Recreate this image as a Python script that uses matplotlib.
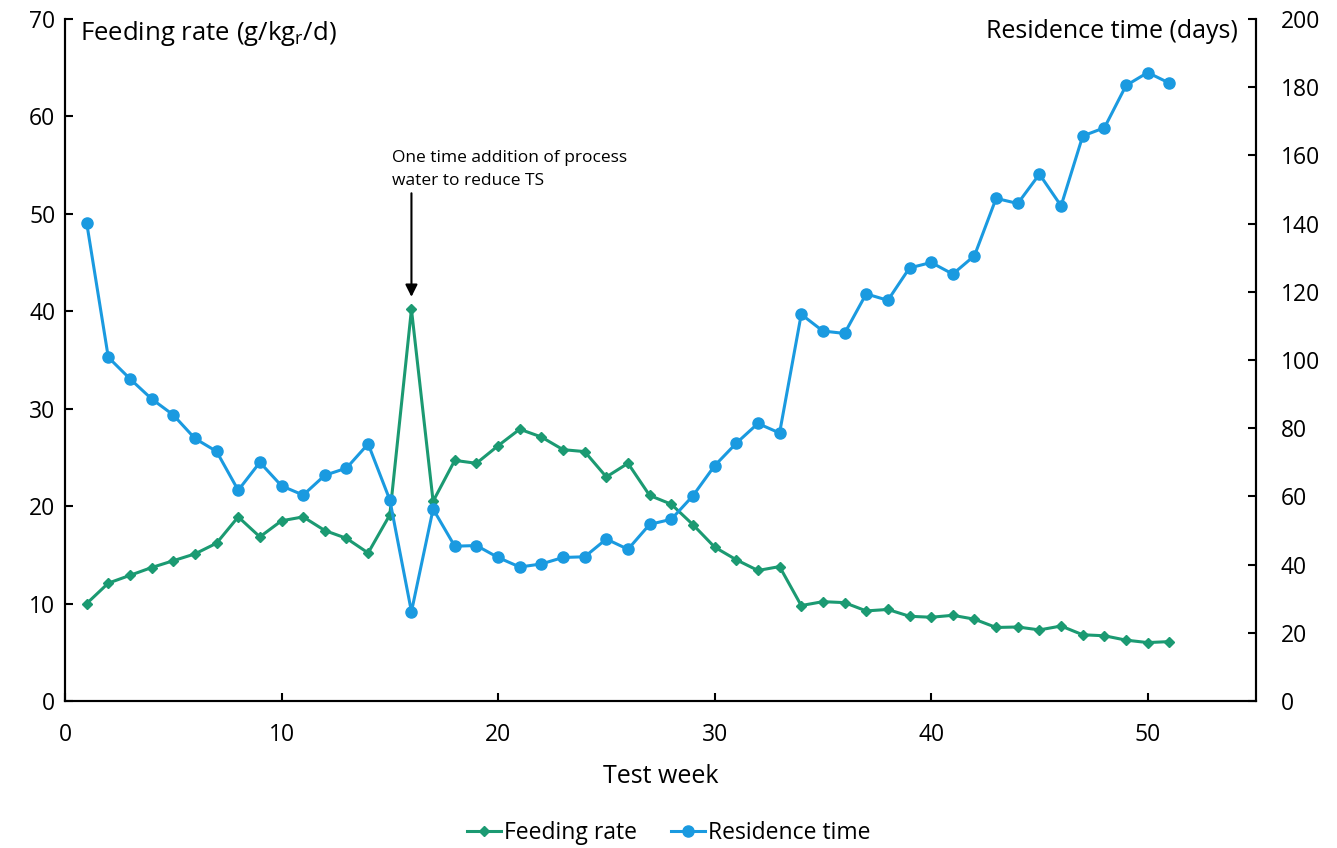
import matplotlib
matplotlib.use("Agg")
import matplotlib.pyplot as plt
from matplotlib.lines import Line2D

plt.rcParams["font.family"] = ["Open Sans", "DejaVu Sans"]
plt.rcParams["mathtext.default"] = "regular"

GREEN = "#1b9a72"
BLUE = "#1a9ae0"

weeks = list(range(1, 52))

feeding_rate = [
    10.0, 12.1, 12.9, 13.7, 14.4, 15.1, 16.2, 18.9, 16.85, 18.5,
    18.9, 17.5, 16.7, 15.2, 19.1, 40.2, 20.5, 24.7, 24.4, 26.2,
    27.9, 27.1, 25.8, 25.6, 23.0, 24.4, 21.1, 20.2, 18.1, 15.8,
    14.5, 13.4, 13.8, 9.8, 10.2, 10.1, 9.25, 9.4, 8.7, 8.6,
    8.8, 8.4, 7.55, 7.6, 7.3, 7.7, 6.8, 6.7, 6.25, 6.0, 6.1,
]

residence_time = [
    140.3, 100.8, 94.5, 88.6, 83.9, 77.0, 73.2, 61.8, 70.0, 63.1,
    60.4, 66.2, 68.3, 75.4, 59.0, 26.2, 56.3, 45.4, 45.6, 42.1,
    39.3, 40.2, 42.1, 42.3, 47.5, 44.5, 51.8, 53.3, 60.2, 69.0,
    75.6, 81.4, 78.6, 113.4, 108.5, 107.8, 119.4, 117.5, 127.0, 128.6,
    125.2, 130.6, 147.4, 145.9, 154.5, 145.2, 165.7, 168.1, 180.5, 184.3, 181.2,
]

x_ticks = [0, 10, 20, 30, 40, 50]
left_ticks = [0, 10, 20, 30, 40, 50, 60, 70]
right_ticks = [0, 20, 40, 60, 80, 100, 120, 140, 160, 180, 200]

fig = plt.figure(figsize=(13.37, 8.48), dpi=100)
ax = fig.add_axes([0.0486, 0.1733, 0.8908, 0.8043])
ax2 = ax.twinx()

ax.plot(weeks, feeding_rate, color=GREEN, lw=2.2, marker="D", ms=5.5,
        zorder=3, clip_on=False)
ax2.plot(weeks, residence_time, color=BLUE, lw=2.2, marker="o", ms=8,
         zorder=3, clip_on=False)

ax.set_xlim(0, 55)
ax.set_ylim(0, 70)
ax2.set_ylim(0, 200)
ax.set_xticks(x_ticks)
ax.set_yticks(left_ticks)
ax2.set_yticks(right_ticks)

for a in (ax, ax2):
    a.spines["top"].set_visible(False)
    for s in a.spines.values():
        s.set_linewidth(1.5)
    a.tick_params(direction="in", length=6, width=1.5, labelsize=16.5)
ax.tick_params(axis="x", pad=16)
ax.tick_params(axis="y", pad=7)
ax2.tick_params(axis="y", pad=18)

# axis titles sit inside the plot, level with the top ticks
ax.text(0.013, 1.0, "Feeding rate (g/kg$_{r}$/d)", transform=ax.transAxes,
        ha="left", va="top", fontsize=18.5)
ax.text(0.985, 1.0, "Residence time (days)", transform=ax.transAxes,
        ha="right", va="top", fontsize=18)

ax.set_xlabel("Test week", fontsize=18, labelpad=12)

ax.annotate("", xy=(16, 41.2), xytext=(16, 52.4),
            arrowprops=dict(arrowstyle="-|>", color="black", lw=1.5,
                            mutation_scale=18))
ax.text(15.1, 56.6, "One time addition of process\nwater to reduce TS",
        ha="left", va="top", fontsize=12.5, linespacing=1.6)

handles = [
    Line2D([], [], color=GREEN, lw=2.2, marker="D", ms=5.5),
    Line2D([], [], color=BLUE, lw=2.2, marker="o", ms=8),
]
fig.legend(handles, ["Feeding rate", "Residence time"], loc="center",
           bbox_to_anchor=(0.5, 0.018), ncol=2, frameon=False, fontsize=16.5,
           handlelength=1.5, handletextpad=0.1, columnspacing=1.5)

fig.savefig("out.png", dpi=100)
